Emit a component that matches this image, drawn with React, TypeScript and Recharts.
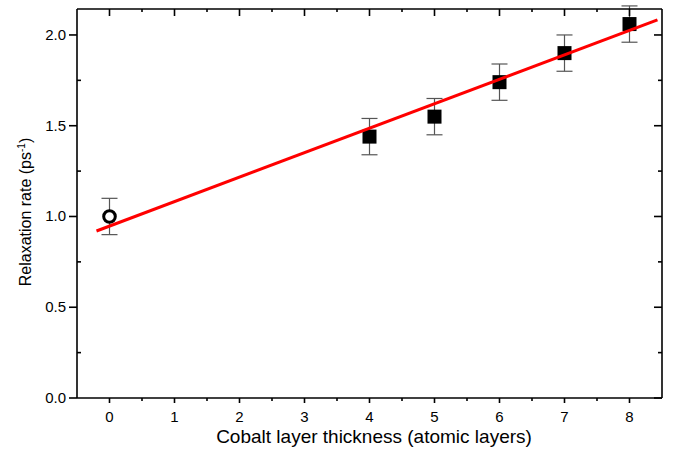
import React from "react"
import { ErrorBar, Label, Scatter, ScatterChart, XAxis, YAxis } from "recharts"

// measured points (cobalt layers vs relaxation rate)
const thickness = [4, 5, 6, 7, 8]
const rate = [1.44, 1.55, 1.74, 1.9, 2.06]
const rateErr = [0.1, 0.1, 0.1, 0.1, 0.1]

// reference sample (no cobalt)
const refThickness = [0]
const refRate = [1.0]
const refErr = [0.1]

// linear fit, drawn end to end
const fitX = [-0.2, 8.43]
const fitY = [0.92, 2.083]

const xTicks = [0, 0.5, 1, 1.5, 2, 2.5, 3, 3.5, 4, 4.5, 5, 5.5, 6, 6.5, 7, 7.5, 8]
const yTicks = [0, 0.25, 0.5, 0.75, 1, 1.25, 1.5, 1.75, 2]

const squares = thickness.map((x, i) => ({ x, y: rate[i], err: rateErr[i] }))
const refPoints = refThickness.map((x, i) => ({ x, y: refRate[i], err: refErr[i] }))
const fitLine = fitX.map((x, i) => ({ x, y: fitY[i] }))

const FONT = "'Liberation Sans', Arial, sans-serif"
const AX = 1.6
const X_DOMAIN = [-0.5, 8.5]
const Y_DOMAIN = [0, 2.143]

const isMajorX = (v: number) => Number.isInteger(v)
const isMajorY = (v: number) => Math.abs(v * 2 - Math.round(v * 2)) < 1e-6

const BottomTick = ({ x, y, payload }: any) => {
  const major = isMajorX(payload.value)
  return (
    <g>
      <line x1={x} x2={x} y1={y} y2={y + (major ? 5 : 3)} stroke="#000" strokeWidth={AX} />
      {major && (
        <text x={x} y={y + 24} textAnchor="middle" fontSize={15} fontFamily={FONT} fill="#000">
          {payload.value}
        </text>
      )}
    </g>
  )
}

const TopTick = ({ x, y, payload }: any) => {
  const major = isMajorX(payload.value)
  return <line x1={x} x2={x} y1={y} y2={y + (major ? 7 : 3)} stroke="#000" strokeWidth={AX} />
}

const LeftTick = ({ x, y, payload }: any) => {
  const major = isMajorY(payload.value)
  return (
    <g>
      {major ? (
        <line x1={x - 8} x2={x} y1={y} y2={y} stroke="#000" strokeWidth={AX} />
      ) : (
        <line x1={x} x2={x + 4} y1={y} y2={y} stroke="#000" strokeWidth={AX} />
      )}
      {major && (
        <text x={x - 11} y={y + 5} textAnchor="end" fontSize={15} fontFamily={FONT} fill="#000">
          {payload.value.toFixed(1)}
        </text>
      )}
    </g>
  )
}

const RightTick = ({ x, y, payload }: any) => {
  const major = isMajorY(payload.value)
  return <line x1={x - (major ? 8 : 4)} x2={x} y1={y} y2={y} stroke="#000" strokeWidth={AX} />
}

const YTitle = () => {
  const cx = 31
  const cy = 212
  return (
    <text
      x={cx}
      y={cy}
      transform={`rotate(-90 ${cx} ${cy})`}
      textAnchor="middle"
      fontSize={16}
      fontFamily={FONT}
      fill="#000"
    >
      Relaxation rate (ps
      <tspan dy={-6} fontSize={10}>-1</tspan>
      <tspan dy={6}>)</tspan>
    </text>
  )
}

const XTitle = () => (
  <text x={374} y={443} textAnchor="middle" fontSize={19} fontFamily={FONT} fill="#000">
    Cobalt layer thickness (atomic layers)
  </text>
)

const Square = ({ cx, cy }: any) => <rect x={cx - 7} y={cy - 7} width={14} height={14} fill="#000" />
const OpenCircle = ({ cx, cy }: any) => (
  <circle cx={cx} cy={cy} r={5.8} fill="#fff" stroke="#000" strokeWidth={3} />
)

export default function App() {
  return (
    <div style={{ width: 676, height: 455, background: "#fff" }}>
      <style>{"body{margin:0}"}</style>
      <ScatterChart width={676} height={455} margin={{ top: 8, right: 13, left: 0, bottom: 0 }}>
        <XAxis
          type="number"
          dataKey="x"
          domain={X_DOMAIN}
          ticks={xTicks}
          interval={0}
          allowDataOverflow
          height={57}
          tickSize={0}
          tickMargin={0}
          tick={<BottomTick />}
          axisLine={{ stroke: "#000", strokeWidth: AX }}
        >
          <Label content={<XTitle />} />
        </XAxis>
        <XAxis
          xAxisId="top"
          orientation="top"
          type="number"
          dataKey="x"
          domain={X_DOMAIN}
          ticks={xTicks}
          interval={0}
          allowDataOverflow
          height={1}
          tickSize={0}
          tickMargin={0}
          tick={<TopTick />}
          axisLine={{ stroke: "#000", strokeWidth: AX }}
        />
        <YAxis
          type="number"
          dataKey="y"
          domain={Y_DOMAIN}
          ticks={yTicks}
          interval={0}
          allowDataOverflow
          width={77}
          tickSize={0}
          tickMargin={0}
          tick={<LeftTick />}
          axisLine={{ stroke: "#000", strokeWidth: AX }}
        >
          <Label content={<YTitle />} />
        </YAxis>
        <YAxis
          yAxisId="right"
          orientation="right"
          type="number"
          dataKey="y"
          domain={Y_DOMAIN}
          ticks={yTicks}
          interval={0}
          allowDataOverflow
          width={1}
          tickSize={0}
          tickMargin={0}
          tick={<RightTick />}
          axisLine={{ stroke: "#000", strokeWidth: AX }}
        />
        <Scatter data={refPoints} shape={<OpenCircle />} isAnimationActive={false}>
          <ErrorBar dataKey="err" direction="y" width={8} stroke="#555" strokeWidth={1.2} />
        </Scatter>
        <Scatter data={squares} shape={<Square />} isAnimationActive={false}>
          <ErrorBar dataKey="err" direction="y" width={8} stroke="#555" strokeWidth={1.2} />
        </Scatter>
        {/* fit line sits on the mirror axes (same domains) so they get drawn */}
        <Scatter
          data={fitLine}
          xAxisId="top"
          yAxisId="right"
          line={{ stroke: "#ff0000", strokeWidth: 3 }}
          shape={() => <g />}
          isAnimationActive={false}
        />
      </ScatterChart>
    </div>
  )
}
